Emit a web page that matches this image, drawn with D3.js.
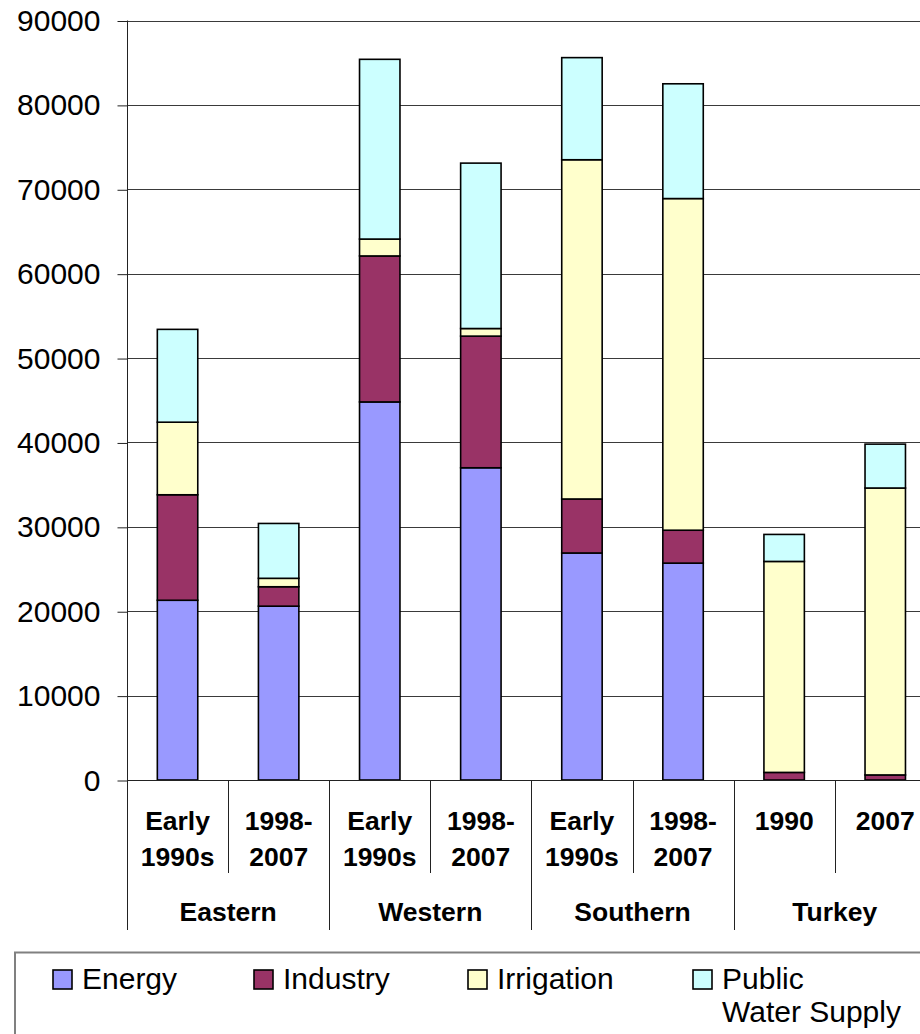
<!DOCTYPE html>
<html>
<head>
<meta charset="utf-8">
<script src="https://cdn.jsdelivr.net/npm/d3@7"></script>
<style>
  html, body { margin: 0; padding: 0; background: #fff; }
  svg { display: block; font-family: "Liberation Sans", Arial, sans-serif; }
</style>
</head>
<body>
<svg id="chart" width="920" height="1034"></svg>
<script>
// Water abstraction by sector (million m³), stacked per region and period
const groups = ["Eastern", "Western", "Southern", "Turkey"];
const periods = [
  ["Early", "1990s"], ["1998-", "2007"],
  ["Early", "1990s"], ["1998-", "2007"],
  ["Early", "1990s"], ["1998-", "2007"],
  ["1990"], ["2007"]
];
const energy     = [21300, 20600, 44800, 37000, 26900, 25700, 0, 0];
const industry   = [12500,  2300, 17300, 15600,  6400,  3900, 900, 600];
const irrigation = [ 8600,  1000,  2000,   900, 40200, 39300, 25000, 34000];
const publicWS   = [11000,  6500, 21300, 19600, 12100, 13600, 3200, 5200];
const seriesNames = ["Energy", "Industry", "Irrigation", "Public Water Supply"];
const seriesColors = ["#9999FF", "#993366", "#FFFFCC", "#CCFFFF"];
const yTicks = [0, 10000, 20000, 30000, 40000, 50000, 60000, 70000, 80000, 90000];

const svg = d3.select("#chart");
const plotLeft = 127, plotTop = 20.5, plotBottom = 780, band = 101.1;
const nBars = periods.length;

const rows = periods.map((p, i) => ({
  idx: i,
  Energy: energy[i],
  Industry: industry[i],
  Irrigation: irrigation[i],
  "Public Water Supply": publicWS[i]
}));

const x = d3.scaleBand()
  .domain(d3.range(nBars))
  .range([plotLeft, plotLeft + band * nBars])
  .paddingInner(0.6).paddingOuter(0.3);
const y = d3.scaleLinear().domain([0, 90000]).range([plotBottom, plotTop]);

// gridlines
svg.append("g").selectAll("line").data(yTicks).join("line")
  .attr("x1", plotLeft).attr("x2", plotLeft + band * nBars)
  .attr("y1", d => Math.round(y(d)) + 0.5).attr("y2", d => Math.round(y(d)) + 0.5)
  .attr("stroke", "#3a3a3a").attr("stroke-width", 1);

// value axis
const yAxis = d3.axisLeft(y).tickValues(yTicks).tickSize(10).tickPadding(17)
  .tickFormat(d3.format("d"));
const ya = svg.append("g").attr("transform", `translate(${plotLeft + 0.5},0.5)`).call(yAxis);
ya.select(".domain").remove();
ya.selectAll(".tick line").attr("stroke", "#222");
ya.selectAll(".tick text").attr("font-size", 30).attr("fill", "#000")
  .attr("font-family", "'Liberation Sans', Arial, sans-serif");
svg.append("line").attr("x1", plotLeft + 0.5).attr("x2", plotLeft + 0.5)
  .attr("y1", plotTop).attr("y2", 930).attr("stroke", "#222");

// stacked bars
const stack = d3.stack().keys(seriesNames);
const layers = stack(rows);
svg.append("g").selectAll("g").data(layers).join("g")
  .attr("fill", (d, i) => seriesColors[i])
  .selectAll("rect").data(d => d.filter(s => s[1] - s[0] > 0)).join("rect")
  .attr("x", d => x(d.data.idx))
  .attr("width", x.bandwidth())
  .attr("y", d => y(d[1]))
  .attr("height", d => y(d[0]) - y(d[1]))
  .attr("stroke", "#000").attr("stroke-width", 1.6);

// category axis baseline
svg.append("line").attr("x1", plotLeft).attr("x2", plotLeft + band * nBars)
  .attr("y1", plotBottom + 0.5).attr("y2", plotBottom + 0.5).attr("stroke", "#222");

// period separators and labels
const sepG = svg.append("g");
d3.range(1, nBars + 1).forEach(i => {
  const xs = Math.round(plotLeft + band * i) + 0.5;
  const isGroup = i % 2 === 0;
  sepG.append("line").attr("x1", xs).attr("x2", xs)
    .attr("y1", plotBottom).attr("y2", isGroup ? 930 : 873)
    .attr("stroke", "#222");
});
const lab = svg.append("g").attr("font-weight", "bold").attr("font-size", 26.5)
  .attr("text-anchor", "middle").attr("fill", "#000");
periods.forEach((lines, i) => {
  const cx = plotLeft + band * (i + 0.5);
  lines.forEach((t, j) => {
    lab.append("text").attr("x", cx).attr("y", 830 + j * 36).text(t);
  });
});
groups.forEach((g, k) => {
  lab.append("text").attr("x", plotLeft + band * (2 * k + 1)).attr("y", 921).text(g);
});

// legend
const legend = svg.append("g");
legend.append("rect").attr("x", 15).attr("y", 952.5).attr("width", 940).attr("height", 120)
  .attr("fill", "none").attr("stroke", "#808080").attr("stroke-width", 2);
const legendX = [53, 254, 468, 693];
const legendLines = [["Energy"], ["Industry"], ["Irrigation"], ["Public", "Water Supply"]];
seriesNames.forEach((name, i) => {
  legend.append("rect").attr("x", legendX[i]).attr("y", 970).attr("width", 19).attr("height", 19)
    .attr("fill", seriesColors[i]).attr("stroke", "#000").attr("stroke-width", 1.6);
  legendLines[i].forEach((t, j) => {
    legend.append("text").attr("x", legendX[i] + 29).attr("y", 989 + j * 33)
      .attr("font-size", 30).attr("fill", "#000").text(t);
  });
});
</script>
</body>
</html>
